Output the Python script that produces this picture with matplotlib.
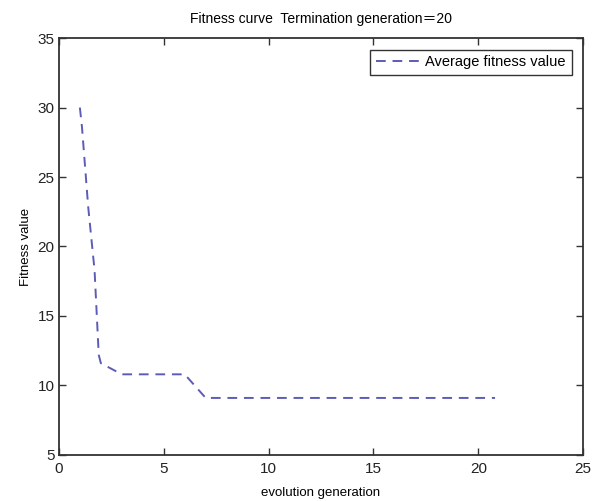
import numpy as np
import matplotlib
matplotlib.use('Agg')
import matplotlib.pyplot as plt

plt.rcParams['font.family'] = ['Liberation Sans', 'Noto Sans CJK SC', 'DejaVu Sans']

# values
gen = [1.0, 1.1, 1.4, 1.7, 1.9, 2.0, 3.0, 6.0, 7.0, 20.8]
avg_fit = [30.0, 28.6, 22.8, 18.3, 12.2, 11.6, 10.8, 10.8, 9.1, 9.1]

fig = plt.figure(figsize=(5.95, 5.01), dpi=100)
ax = fig.add_axes([0.099, 0.092, 0.881, 0.832])

ax.plot(gen, avg_fit, linestyle=(0, (5, 3.5)), color='#5c5cb8', linewidth=1.4,
        label='Average fitness value')

ax.set_xlim(0, 25)
ax.set_ylim(5, 35)
ax.set_xticks(np.arange(0, 26, 5))
ax.set_yticks(np.arange(5, 36, 5))
ax.tick_params(direction='in', top=True, right=True, length=5, width=1.0,
               labelsize=11, colors='#333333', labelcolor='#222222', pad=3)
ax.tick_params(axis='x', pad=5)
for s in ax.spines.values():
    s.set_linewidth(1.3)
    s.set_color('#333333')

ax.set_title('Fitness curve  Termination generation＝20', fontsize=10, pad=11)
ax.set_xlabel('evolution generation', fontsize=9.5, labelpad=8)
ax.set_ylabel('Fitness value', fontsize=9.5, labelpad=4)

leg = ax.legend(loc='upper right', fontsize=10.5, fancybox=False, framealpha=1,
                edgecolor='#333333', handlelength=3.2, handletextpad=0.2,
                borderpad=0.4, bbox_to_anchor=(0.992, 0.99))
leg.get_frame().set_linewidth(1.0)

fig.savefig('out.png', dpi=100)
